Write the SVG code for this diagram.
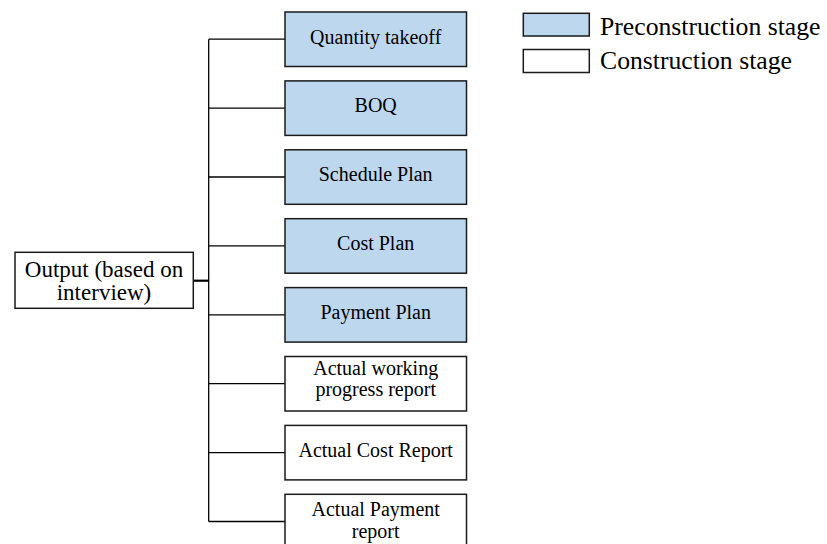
<svg xmlns="http://www.w3.org/2000/svg" width="827" height="544" viewBox="0 0 827 544">
  <style>
    text { font-family: "Liberation Serif", "Times New Roman", serif; fill: #000; }
    .box { stroke: #1a1a1a; stroke-width: 1.5; }
    .pre { fill: #bdd7ee; }
    .con { fill: #ffffff; }
    .lbl { font-size: 20px; text-anchor: middle; }
    .root { font-size: 23px; text-anchor: middle; }
    .leg { font-size: 25.7px; }
    .wire { stroke: #000; stroke-width: 1.3; fill: none; }
  </style>
  <rect width="827" height="544" fill="#ffffff"/>

  <!-- connectors -->
  <g id="connectors">
    <line class="wire" x1="208.7" y1="39.2" x2="208.7" y2="521.5"/>
    <line class="wire" x1="193" y1="280.7" x2="208.7" y2="280.7" style="stroke-width:2.2"/>
    <line class="wire" x1="208.7" y1="39.2" x2="285" y2="39.2"/>
    <line class="wire" x1="208.7" y1="108.1" x2="285" y2="108.1"/>
    <line class="wire" x1="208.7" y1="177" x2="285" y2="177"/>
    <line class="wire" x1="208.7" y1="245.9" x2="285" y2="245.9"/>
    <line class="wire" x1="208.7" y1="314.8" x2="285" y2="314.8"/>
    <line class="wire" x1="208.7" y1="383.7" x2="285" y2="383.7"/>
    <line class="wire" x1="208.7" y1="452.6" x2="285" y2="452.6"/>
    <line class="wire" x1="208.7" y1="521.5" x2="285" y2="521.5"/>
  </g>

  <!-- root node -->
  <g id="output">
    <rect class="box con" x="15" y="252.3" width="178.3" height="56"/>
    <text class="root" x="104" y="276.5">Output (based on</text>
    <text class="root" x="104" y="300.3">interview)</text>
  </g>

  <!-- preconstruction outputs -->
  <g id="quantity-takeoff">
    <rect class="box pre" x="285" y="12" width="181.5" height="54.5"/>
    <text class="lbl" x="375.7" y="43.5">Quantity takeoff</text>
  </g>
  <g id="boq">
    <rect class="box pre" x="285" y="80.9" width="181.5" height="54.5"/>
    <text class="lbl" x="375.7" y="112.4">BOQ</text>
  </g>
  <g id="schedule-plan">
    <rect class="box pre" x="285" y="149.8" width="181.5" height="54.5"/>
    <text class="lbl" x="375.7" y="181.3">Schedule Plan</text>
  </g>
  <g id="cost-plan">
    <rect class="box pre" x="285" y="218.7" width="181.5" height="54.5"/>
    <text class="lbl" x="375.7" y="250.2">Cost Plan</text>
  </g>
  <g id="payment-plan">
    <rect class="box pre" x="285" y="287.6" width="181.5" height="54.5"/>
    <text class="lbl" x="375.7" y="319.1">Payment Plan</text>
  </g>

  <!-- construction outputs -->
  <g id="actual-working-progress">
    <rect class="box con" x="285" y="356.5" width="181.5" height="54.5"/>
    <text class="lbl" x="375.7" y="375.3">Actual working</text>
    <text class="lbl" x="375.7" y="395.5">progress report</text>
  </g>
  <g id="actual-cost-report">
    <rect class="box con" x="285" y="425.4" width="181.5" height="54.5"/>
    <text class="lbl" x="375.7" y="456.9">Actual Cost Report</text>
  </g>
  <g id="actual-payment-report">
    <rect class="box con" x="285" y="494.3" width="181.5" height="54.5"/>
    <text class="lbl" x="375.7" y="516.4">Actual Payment</text>
    <text class="lbl" x="375.7" y="537.6">report</text>
  </g>

  <!-- legend -->
  <g id="legend">
    <rect class="box pre" x="523.3" y="13.3" width="66" height="22.7"/>
    <text class="leg" x="600" y="35">Preconstruction stage</text>
    <rect class="box con" x="523.3" y="49.5" width="66" height="23"/>
    <text class="leg" x="600" y="69.3">Construction stage</text>
  </g>
</svg>
